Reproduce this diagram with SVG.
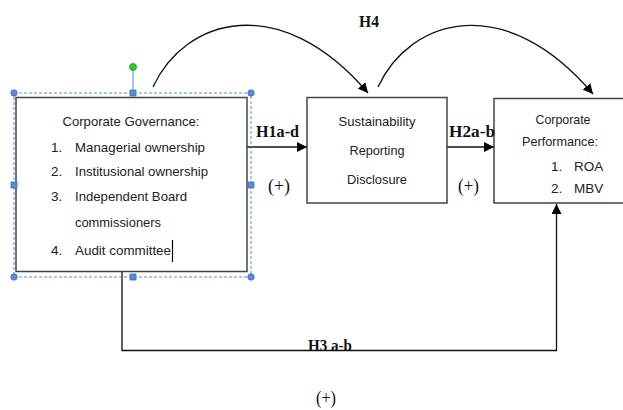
<svg xmlns="http://www.w3.org/2000/svg" width="623" height="410" viewBox="0 0 623 410">
<defs>
<marker id="ah" viewBox="0 0 10 10" refX="10" refY="5" markerWidth="10" markerHeight="10" markerUnits="userSpaceOnUse" orient="auto">
<path d="M0,0 L10,5 L0,10 z" fill="#000"/>
</marker>
<style>
.box{fill:#fff;stroke:#444;stroke-width:1.5}
.t{font-family:"Liberation Sans",Arial,sans-serif;font-size:13.5px;fill:#222}
.h{font-family:"Liberation Serif","Times New Roman",serif;font-size:17px;font-weight:bold;fill:#111}
.p{font-family:"Liberation Serif","Times New Roman",serif;font-size:18px;fill:#111}
.c{fill:none;stroke:#111;stroke-width:1.3}
.sel{fill:none;stroke:#5b8bd6;stroke-width:1;stroke-dasharray:3,2}
.hd{fill:#5b8bd6;stroke:#3f6fb8;stroke-width:0.8}
</style>
</defs>
<rect width="623" height="410" fill="#fff"/>
<g id="connectors">
<path class="c" d="M153,87 C185,18 280,-10 368,93" marker-end="url(#ah)"/>
<path class="c" d="M378,87 C410,18 505,-10 593,94" marker-end="url(#ah)"/>
<line class="c" x1="247" y1="147" x2="307" y2="147" marker-end="url(#ah)"/>
<line class="c" x1="447" y1="147" x2="494" y2="147" marker-end="url(#ah)"/>
<path class="c" d="M122,272 V350.5 H556.5 V204" marker-end="url(#ah)"/>
</g>
<g id="cg">
<rect class="box" x="16" y="97.5" width="231" height="174"/>
<text class="t" x="131" y="126" text-anchor="middle" textLength="137" lengthAdjust="spacingAndGlyphs">Corporate Governance:</text>
<text class="t" x="51" y="152">1.</text><text class="t" x="75" y="152" textLength="130" lengthAdjust="spacingAndGlyphs">Managerial ownership</text>
<text class="t" x="51" y="176">2.</text><text class="t" x="75" y="176" textLength="133" lengthAdjust="spacingAndGlyphs">Institusional ownership</text>
<text class="t" x="51" y="201">3.</text><text class="t" x="75" y="201" textLength="112" lengthAdjust="spacingAndGlyphs">Independent Board</text>
<text class="t" x="75" y="227" textLength="86" lengthAdjust="spacingAndGlyphs">commissioners</text>
<text class="t" x="51" y="255">4.</text><text class="t" x="75" y="255" textLength="96" lengthAdjust="spacingAndGlyphs">Audit committee</text>
<line x1="172.5" y1="240" x2="172.5" y2="262" stroke="#000" stroke-width="1.2"/>
</g>
<g id="selection">
<rect class="sel" x="14" y="93" width="237" height="184"/>
<line x1="133" y1="68" x2="133" y2="93" stroke="#5b8bd6" stroke-width="1"/>
<circle cx="133" cy="67" r="3.5" fill="#2ecc2e" stroke="#1a9a1a" stroke-width="0.8"/>
<circle class="hd" cx="14" cy="93" r="3.2"/>
<circle class="hd" cx="251" cy="93" r="3.2"/>
<circle class="hd" cx="14" cy="277" r="3.2"/>
<circle class="hd" cx="251" cy="277" r="3.2"/>
<rect class="hd" x="130" y="90" width="6" height="6"/>
<rect class="hd" x="130" y="274" width="6" height="6"/>
<rect class="hd" x="11" y="182" width="6" height="6"/>
<rect class="hd" x="248" y="182" width="6" height="6"/>
</g>
<g id="srd">
<rect class="box" x="307" y="97.5" width="140" height="105.5"/>
<text class="t" x="377" y="126" text-anchor="middle" textLength="77" lengthAdjust="spacingAndGlyphs">Sustainability</text>
<text class="t" x="377" y="155" text-anchor="middle" textLength="55" lengthAdjust="spacingAndGlyphs">Reporting</text>
<text class="t" x="377" y="184" text-anchor="middle" textLength="60" lengthAdjust="spacingAndGlyphs">Disclosure</text>
</g>
<g id="cp">
<rect class="box" x="494" y="98.5" width="140" height="104.5"/>
<text class="t" x="563" y="124" text-anchor="middle" textLength="55" lengthAdjust="spacingAndGlyphs">Corporate</text>
<text class="t" x="560" y="146" text-anchor="middle" textLength="76" lengthAdjust="spacingAndGlyphs">Performance:</text>
<text class="t" x="551" y="171">1.</text><text class="t" x="574" y="171">ROA</text>
<text class="t" x="551" y="193">2.</text><text class="t" x="574" y="193">MBV</text>
</g>
<g id="labels">
<text class="h" x="359" y="27" textLength="20" lengthAdjust="spacingAndGlyphs">H4</text>
<text class="h" x="256" y="137" textLength="43" lengthAdjust="spacingAndGlyphs">H1a-d</text>
<text class="p" x="268" y="192" textLength="22" lengthAdjust="spacingAndGlyphs">(+)</text>
<text class="h" x="449" y="137" textLength="46" lengthAdjust="spacingAndGlyphs">H2a-b</text>
<text class="p" x="458" y="192" textLength="21" lengthAdjust="spacingAndGlyphs">(+)</text>
<text class="h" x="308" y="351" textLength="44" lengthAdjust="spacingAndGlyphs">H3 a-b</text>
<text class="p" x="316" y="404" textLength="20" lengthAdjust="spacingAndGlyphs">(+)</text>
</g>
</svg>
